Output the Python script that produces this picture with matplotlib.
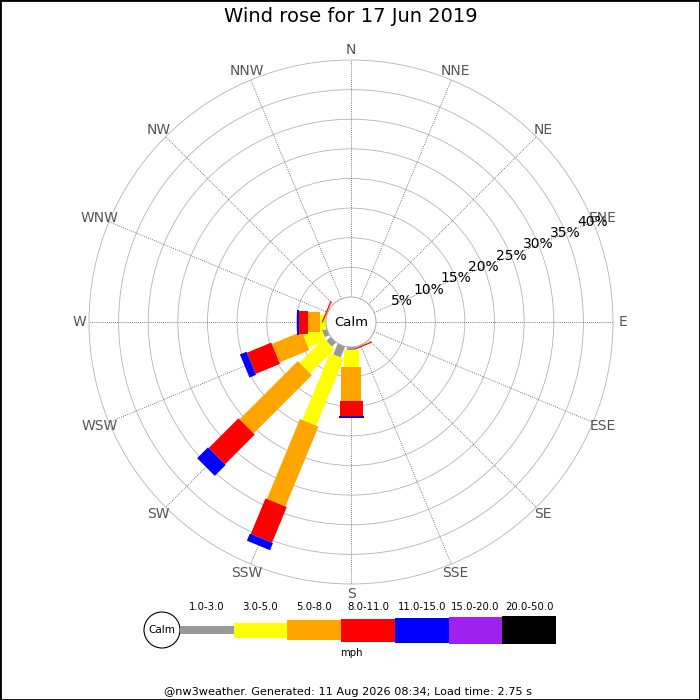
import matplotlib
matplotlib.use("Agg")
import matplotlib.pyplot as plt
from matplotlib.patches import Circle, Rectangle
from matplotlib.transforms import Affine2D
import numpy as np

# directions and speed bins
directions = ["N", "NNE", "NE", "ENE", "E", "ESE", "SE", "SSE",
              "S", "SSW", "SW", "WSW", "W", "WNW", "NW", "NNW"]
bins = ["1.0-3.0", "3.0-5.0", "5.0-8.0", "8.0-11.0", "11.0-15.0", "15.0-20.0", "20.0-50.0"]
bin_colors = ["#999999", "#ffff00", "#ffa500", "#ff0000", "#0000ff", "#a020f0", "#000000"]

# percent of time per direction, per speed bin
freq = {
    "SSE": [0.0, 0.05, 0.10, 0.20, 0.0, 0.0, 0.0],
    "S":   [0.5, 2.93, 5.63, 2.59, 0.33, 0.0, 0.0],
    "SSW": [2.0, 12.2, 14.6, 6.5, 1.3, 0.0, 0.0],
    "SW":  [1.0, 5.8, 13.9, 7.1, 2.6, 0.0, 0.0],
    "WSW": [0.85, 3.25, 5.45, 4.45, 1.2, 0.0, 0.0],
    "W":   [0.0, 1.0, 2.0, 1.5, 0.45, 0.0, 0.0],
    "WNW": [0.0, 0.05, 0.10, 0.20, 0.0, 0.0, 0.0],
}
rings = [5, 10, 15, 20, 25, 30, 35, 40]

# geometry in pixels
CX, CY = 351, 378
CALM_R = 25
OUTER_R = 262
PX = (OUTER_R - CALM_R) / 40.0
bar_w = [8, 15, 20, 23, 25, 27, 28]

fig = plt.figure(figsize=(7, 7), dpi=100)
ax = fig.add_axes([0, 0, 1, 1])
ax.axis("off")

# rings
for p in rings:
    ax.add_patch(Circle((CX, CY), CALM_R + p * PX, fill=False, ec="#b4b4b4", lw=0.6, zorder=1))

# spokes + direction labels
for i, d in enumerate(directions):
    b = np.radians(i * 22.5)
    ax.plot([CX + CALM_R * np.sin(b), CX + OUTER_R * np.sin(b)],
            [CY + CALM_R * np.cos(b), CY + OUTER_R * np.cos(b)],
            ls=(0, (1, 1.5)), color="#555555", lw=0.6, zorder=1)
    ax.text(CX + 272 * np.sin(b), CY + 272 * np.cos(b), d, color="#555555",
            fontsize=10, ha="center", va="center")

# bars
for d, vals in freq.items():
    bearing = directions.index(d) * 22.5
    tr = Affine2D().rotate_deg(-bearing).translate(CX, CY) + ax.transData
    cum = 0.0
    for k, v in enumerate(vals):
        if v > 0:
            ax.bar(0, v * PX, width=bar_w[k], bottom=CALM_R + cum * PX,
                   color=bin_colors[k], transform=tr, zorder=3, linewidth=0)
        cum += v

# calm circle
ax.add_patch(Circle((CX, CY), CALM_R, fc="white", ec="#aaaaaa", lw=0.7, zorder=4))
ax.text(CX, CY, "Calm", fontsize=9.5, ha="center", va="center", zorder=5)

# percentage labels along ENE
lb = np.radians(67.5)
for p in rings:
    r = CALM_R + p * PX
    ax.text(CX + r * np.sin(lb), CY + r * np.cos(lb), f"{p}%", fontsize=10,
            ha="center", va="center", zorder=5)

# legend
LY = 70
ax.add_patch(Circle((162, LY), 18, fc="white", ec="black", lw=0.8))
ax.text(162, LY, "Calm", fontsize=7.5, ha="center", va="center")
seg = 53.7
centers = 180 + seg * (np.arange(len(bins)) + 0.5)
hts = np.array(bar_w, dtype=float)
ax.bar(centers, hts, width=seg, bottom=LY - hts / 2, color=bin_colors, linewidth=0)
for c, lab in zip(centers, bins):
    ax.text(c, 93, lab, fontsize=7.3, ha="center", va="center")
ax.text(351, 47, "mph", fontsize=7.3, ha="center", va="center")

ax.text(351, 684, "Wind rose for 17 Jun 2019", fontsize=14, ha="center", va="center")
ax.text(348, 8, "@nw3weather. Generated: 11 Aug 2026 08:34; Load time: 2.75 s",
        fontsize=8.15, ha="center", va="center")

ax.set_xlim(0, 700)
ax.set_ylim(0, 700)

fig.patches.append(Rectangle((0, 0), 1, 1, transform=fig.transFigure, fill=False,
                             ec="black", lw=2))

fig.savefig("out.png", dpi=100)
